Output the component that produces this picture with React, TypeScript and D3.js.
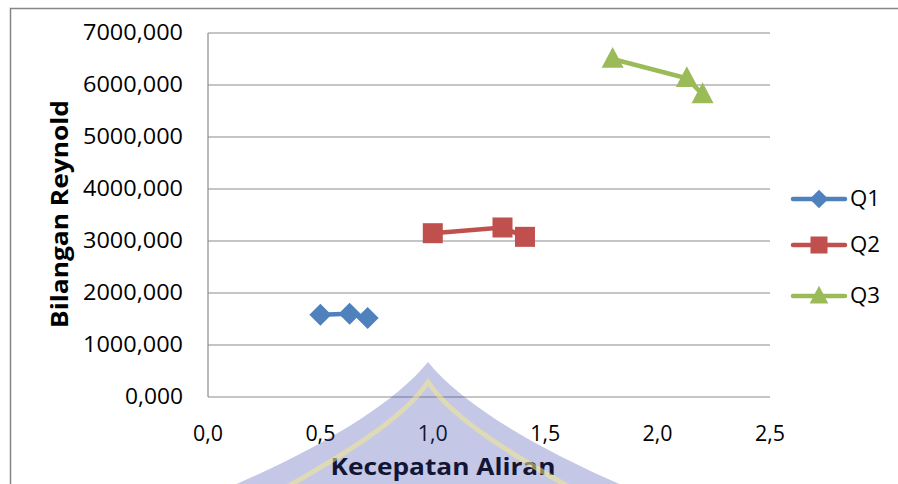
import React from "react";
import * as d3 from "d3";

// Kecepatan aliran (x) vs bilangan Reynold (y) for each discharge
const q1X = [0.5, 0.63, 0.71];
const q1Y = [1580, 1600, 1520];
const q2X = [1.0, 1.31, 1.41];
const q2Y = [3150, 3260, 3080];
const q3X = [1.8, 2.13, 2.2];
const q3Y = [6500, 6130, 5820];

const seriesNames = ["Q1", "Q2", "Q3"];
const xTicks = [0, 0.5, 1.0, 1.5, 2.0, 2.5];
const yTicks = [0, 1000, 2000, 3000, 4000, 5000, 6000, 7000];

const W = 898;
const H = 484;
const colors = ["#4F81BD", "#C0504D", "#9BBB59"];
const FONT = "'Open Sans', 'Liberation Sans', sans-serif";

function Marker({ kind, x, y, color, size = 1 }: { kind: number; x: number; y: number; color: string; size?: number }) {
  if (kind === 0) {
    const r = 11 * size;
    return <path d={`M${x},${y - r}L${x + r},${y}L${x},${y + r}L${x - r},${y}Z`} fill={color} />;
  }
  if (kind === 1) {
    const s = 10 * size;
    return <rect x={x - s} y={y - s} width={2 * s} height={2 * s} fill={color} />;
  }
  const s = 11 * size;
  return <path d={`M${x},${y - s * 1.1}L${x + s},${y + s * 0.8}L${x - s},${y + s * 0.8}Z`} fill={color} />;
}

export default function App() {
  const x = d3.scaleLinear().domain([0, 2.5]).range([208, 770]);
  const y = d3.scaleLinear().domain([0, 7000]).range([397, 33]);
  const series = [
    { xs: q1X, ys: q1Y },
    { xs: q2X, ys: q2Y },
    { xs: q3X, ys: q3Y },
  ];
  const line = d3
    .line<[number, number]>()
    .x((d) => x(d[0]))
    .y((d) => y(d[1]));
  const fmtY = (v: number) => d3.format(".3f")(v).replace(".", ",");
  const fmtX = (v: number) => d3.format(".1f")(v).replace(".", ",");

  // translucent crest laid over the lower middle of the figure
  const ax = 428;
  const outer = `M${ax},362 C${ax - 35},405 ${ax - 110},450 ${ax - 210},492 L${ax + 210},492 C${ax + 110},450 ${ax + 35},405 ${ax},362 Z`;
  const stripe = `M${ax - 150},492 C${ax - 90},458 ${ax - 25},420 ${ax},382 C${ax + 25},420 ${ax + 90},458 ${ax + 150},492`;

  return (
    <svg width={W} height={H} style={{ position: "absolute", left: 0, top: 0 }}>
      <rect width={W} height={H} fill="#ffffff" />
      <path d={`M10.5,${H}V8.5H${W}`} fill="none" stroke="#868686" strokeWidth={1.5} />
      {yTicks.map((t) => (
        <line key={t} x1={208} x2={770} y1={y(t)} y2={y(t)} stroke="#8c8c8c" strokeWidth={1.2} />
      ))}
      <line x1={208} x2={208} y1={33} y2={397} stroke="#8c8c8c" strokeWidth={1.2} />
      {yTicks.map((t) => (
        <text
          key={t}
          x={183}
          y={y(t)}
          dy="0.35em"
          textAnchor="end"
          fontFamily={FONT}
          fontSize={21}
          textLength={t === 0 ? 58 : 100}
          lengthAdjust="spacingAndGlyphs"
          fill="#000"
        >
          {fmtY(t)}
        </text>
      ))}
      {xTicks.map((t) => (
        <text
          key={t}
          x={x(t)}
          y={434}
          dy="0.35em"
          textAnchor="middle"
          fontFamily={FONT}
          fontSize={21}
          textLength={30}
          lengthAdjust="spacingAndGlyphs"
          fill="#000"
        >
          {fmtX(t)}
        </text>
      ))}
      <text
        x={443}
        y={467}
        dy="0.35em"
        textAnchor="middle"
        fontFamily={FONT}
        fontWeight="bold"
        fontSize={23}
        textLength={225}
        lengthAdjust="spacingAndGlyphs"
        fill="#000"
      >
        Kecepatan Aliran
      </text>
      <text
        transform="translate(60,214) rotate(-90)"
        textAnchor="middle"
        dy="0.35em"
        fontFamily={FONT}
        fontWeight="bold"
        fontSize={23}
        textLength={228}
        lengthAdjust="spacingAndGlyphs"
        fill="#000"
      >
        Bilangan Reynold
      </text>
      {series.map((s, i) => {
        const pts = s.xs.map((v, j) => [v, s.ys[j]] as [number, number]);
        return (
          <g key={i}>
            <path d={line(pts) || ""} fill="none" stroke={colors[i]} strokeWidth={4.5} />
            {pts.map((p, j) => (
              <Marker key={j} kind={i} x={x(p[0])} y={y(p[1])} color={colors[i]} />
            ))}
          </g>
        );
      })}
      {seriesNames.map((n, i) => {
        const ly = [199, 245, 296][i];
        return (
          <g key={n}>
            <line x1={793} x2={845} y1={ly} y2={ly} stroke={colors[i]} strokeWidth={4.5} strokeLinecap="round" />
            <Marker kind={i} x={819} y={ly} color={colors[i]} size={0.85} />
            <text
              x={850}
              y={ly}
              dy="0.35em"
              fontFamily={FONT}
              fontSize={21}
              textLength={30}
              lengthAdjust="spacingAndGlyphs"
              fill="#000"
            >
              {n}
            </text>
          </g>
        );
      })}
      <g>
        <path d={outer} fill="#3c46a8" opacity={0.3} />
        <path d={stripe} fill="none" stroke="#f4ea90" strokeWidth={5} opacity={0.55} />
      </g>
    </svg>
  );
}
